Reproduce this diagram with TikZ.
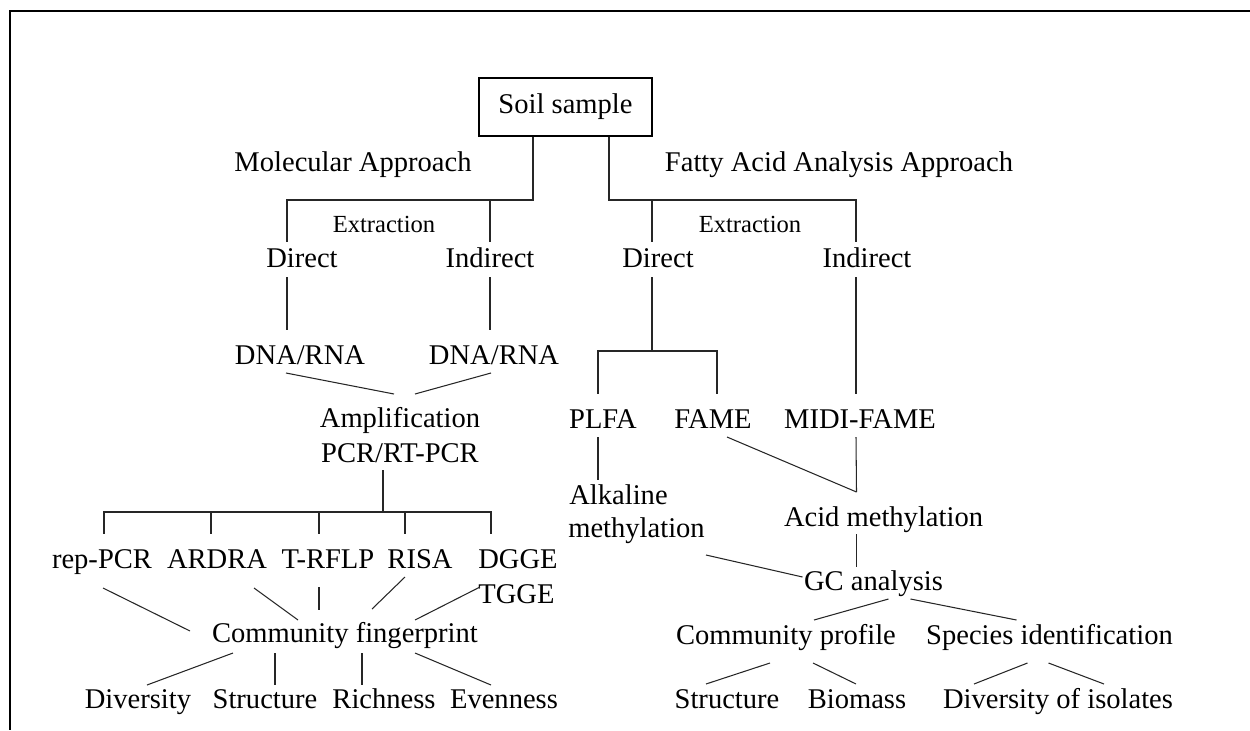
\documentclass[tikz,border=0pt]{standalone}
\usepackage{fontspec}
\setmainfont{Liberation Serif}
\usepackage{tikz}

\begin{document}
\begin{tikzpicture}[x=0.02cm,y=-0.02cm,
	lbl/.style={inner sep=0pt,anchor=base,font=\fontsize{16.25}{19}\selectfont},
	sml/.style={lbl,font=\fontsize{14}{17}\selectfont},
	con/.style={line width=0.6pt,black!85}]
		\useasboundingbox (0,0) rectangle (1250,730);
		\draw[line width=1.3pt] (1250,11) -- (10,11) -- (10,730);
		
		\node[draw,line width=0.7pt,minimum width=3.46cm,minimum height=1.16cm,inner sep=0pt,font=\fontsize{16.25}{19}\selectfont] (soil) at (565.5,107) {Soil sample};
		\node[lbl] (molA) at (353,171) {Molecular Approach};
		\node[lbl] (fatA) at (839,171) {Fatty Acid Analysis Approach};
		\node[sml] (extL) at (384,232) {Extraction};
		\node[sml] (extR) at (750,232) {Extraction};
		\node[lbl] (dirL) at (302,267) {Direct};
		\node[lbl] (indL) at (490,267) {Indirect};
		\node[lbl] (dirR) at (658,267) {Direct};
		\node[lbl] (indR) at (867,267) {Indirect};
		
		\node[lbl] (dnaL) at (300,364) {DNA/RNA};
		\node[lbl] (dnaR) at (494,364) {DNA/RNA};
		\node[lbl] (amp) at (400,427) {Amplification};
		\node[lbl] (pcr) at (400,462) {PCR/RT-PCR};
		\node[lbl] (rep) at (102,568) {rep-PCR};
		\node[lbl] (ardra) at (217,568) {ARDRA};
		\node[lbl] (trflp) at (328,568) {T-RFLP};
		\node[lbl] (risa) at (420,568) {RISA};
		\node[lbl,anchor=base west] (dgge) at (478,568) {DGGE};
		\node[lbl,anchor=base west] (tgge) at (478,603) {TGGE};
		\node[lbl] (cf) at (345,642) {Community fingerprint};
		\node[lbl] (div) at (138,708) {Diversity};
		\node[lbl] (str) at (265,708) {Structure};
		\node[lbl] (rich) at (384,708) {Richness};
		\node[lbl] (even) at (504,708) {Evenness};
		
		\node[lbl] (plfa) at (603,428) {PLFA};
		\node[lbl] (fame) at (713,428) {FAME};
		\node[lbl] (midi) at (860,428) {MIDI-FAME};
		\node[lbl,anchor=base west] (alk) at (569,504) {Alkaline};
		\node[lbl,anchor=base west] (alkM) at (568,537) {methylation};
		\node[lbl] (acid) at (883.5,526) {Acid methylation};
		\node[lbl] (gc) at (873.5,590) {GC analysis};
		\node[lbl] (cp) at (786,644) {Community profile};
		\node[lbl] (si) at (1049.5,644) {Species identification};
		\node[lbl] (strR) at (727,708) {Structure};
		\node[lbl] (bio) at (857,708) {Biomass};
		\node[lbl] (diso) at (1058,708) {Diversity of isolates};
		
		\coordinate (molJ) at (533,200);
		\coordinate (fatJ) at (609,200);
		\coordinate (techJ) at (383,512);
		\coordinate (lipJ) at (652,351);
		
		\draw[con] (soil.south -| molJ) -- (molJ) -| ([shift={(-15,-25)}]dirL.base);
		\draw[con] (molJ) -| ([shift={(0,-25)}]indL.base);
		\draw[con] (soil.south -| fatJ) -- (fatJ) -| ([shift={(-6,-25)}]dirR.base);
		\draw[con] (fatJ) -| ([shift={(-11,-25)}]indR.base);
		
		\draw[con] ([shift={(-15,10)}]dirL.base) -- ([shift={(-13,-34)}]dnaL.base);
		\draw[con] ([shift={(0,10)}]indL.base) -- ([shift={(-4,-34)}]dnaR.base);
		\draw[con] ([shift={(-14,9)}]dnaL.base) -- ([shift={(-6,-33)}]amp.base);
		\draw[con] ([shift={(-3,9)}]dnaR.base) -- ([shift={(15,-33)}]amp.base);
		\draw[con] ([shift={(-17,8)}]pcr.base) -- (techJ);
		\draw[con] (techJ) -| ([shift={(2,-34)}]rep.base);
		\draw[con] (techJ) -| ([shift={(-6,-34)}]ardra.base);
		\draw[con] (techJ) -| ([shift={(-9,-34)}]trflp.base);
		\draw[con] (techJ) -| ([shift={(-15,-34)}]risa.base);
		\draw[con] (techJ) -| ([shift={(13,-34)}]dgge.base west);
		
		\draw[con] ([shift={(1,20)}]rep.base) -- ([shift={(-155,-11)}]cf.base);
		\draw[con] ([shift={(37,20)}]ardra.base) -- ([shift={(-47,-22)}]cf.base);
		\draw[con] ([shift={(-9,19)}]trflp.base) -- ([shift={(-26,-32)}]cf.base);
		\draw[con] ([shift={(-15,9)}]risa.base) -- ([shift={(27,-33)}]cf.base);
		\draw[con] ([shift={(2,-16)}]tgge.base west) -- ([shift={(70,-22)}]cf.base);
		\draw[con] ([shift={(-112,11)}]cf.base) -- ([shift={(9,-23)}]div.base);
		\draw[con] ([shift={(-70,11)}]cf.base) -- ([shift={(10,-23)}]str.base);
		\draw[con] ([shift={(17,11)}]cf.base) -- ([shift={(-22,-23)}]rich.base);
		\draw[con] ([shift={(70,11)}]cf.base) -- ([shift={(-13,-23)}]even.base);
		
		\draw[con] ([shift={(-6,10)}]dirR.base) -- (lipJ);
		\draw[con] (lipJ) -| ([shift={(-5,-34)}]plfa.base);
		\draw[con] (lipJ) -| ([shift={(4,-34)}]fame.base);
		\draw[con] ([shift={(-11,10)}]indR.base) -- ([shift={(-4,-34)}]midi.base);
		\draw[con] ([shift={(-5,9)}]plfa.base) -- ([shift={(29,-24)}]alk.base west);
		\draw[con] ([shift={(14,9)}]fame.base) -- ([shift={(-27,-34)}]acid.base);
		\draw[con] ([shift={(-4,9)}]midi.base) -- ([shift={(-27,-34)}]acid.base);
		\draw[con] ([shift={(-27,8)}]acid.base) -- ([shift={(-17,-23)}]gc.base);
		\draw[con] ([shift={(138,18)}]alkM.base west) -- ([shift={(-71,-13)}]gc.base);
		\draw[con] ([shift={(15,9)}]gc.base) -- ([shift={(28,-24)}]cp.base);
		\draw[con] ([shift={(37,9)}]gc.base) -- ([shift={(-33,-24)}]si.base);
		\draw[con] ([shift={(-16,19)}]cp.base) -- ([shift={(-21,-24)}]strR.base);
		\draw[con] ([shift={(27,19)}]cp.base) -- ([shift={(-1,-24)}]bio.base);
		\draw[con] ([shift={(-22,19)}]si.base) -- ([shift={(-84,-24)}]diso.base);
		\draw[con] ([shift={(-1,19)}]si.base) -- ([shift={(46,-24)}]diso.base);
		
		\end{tikzpicture}
\end{document}
